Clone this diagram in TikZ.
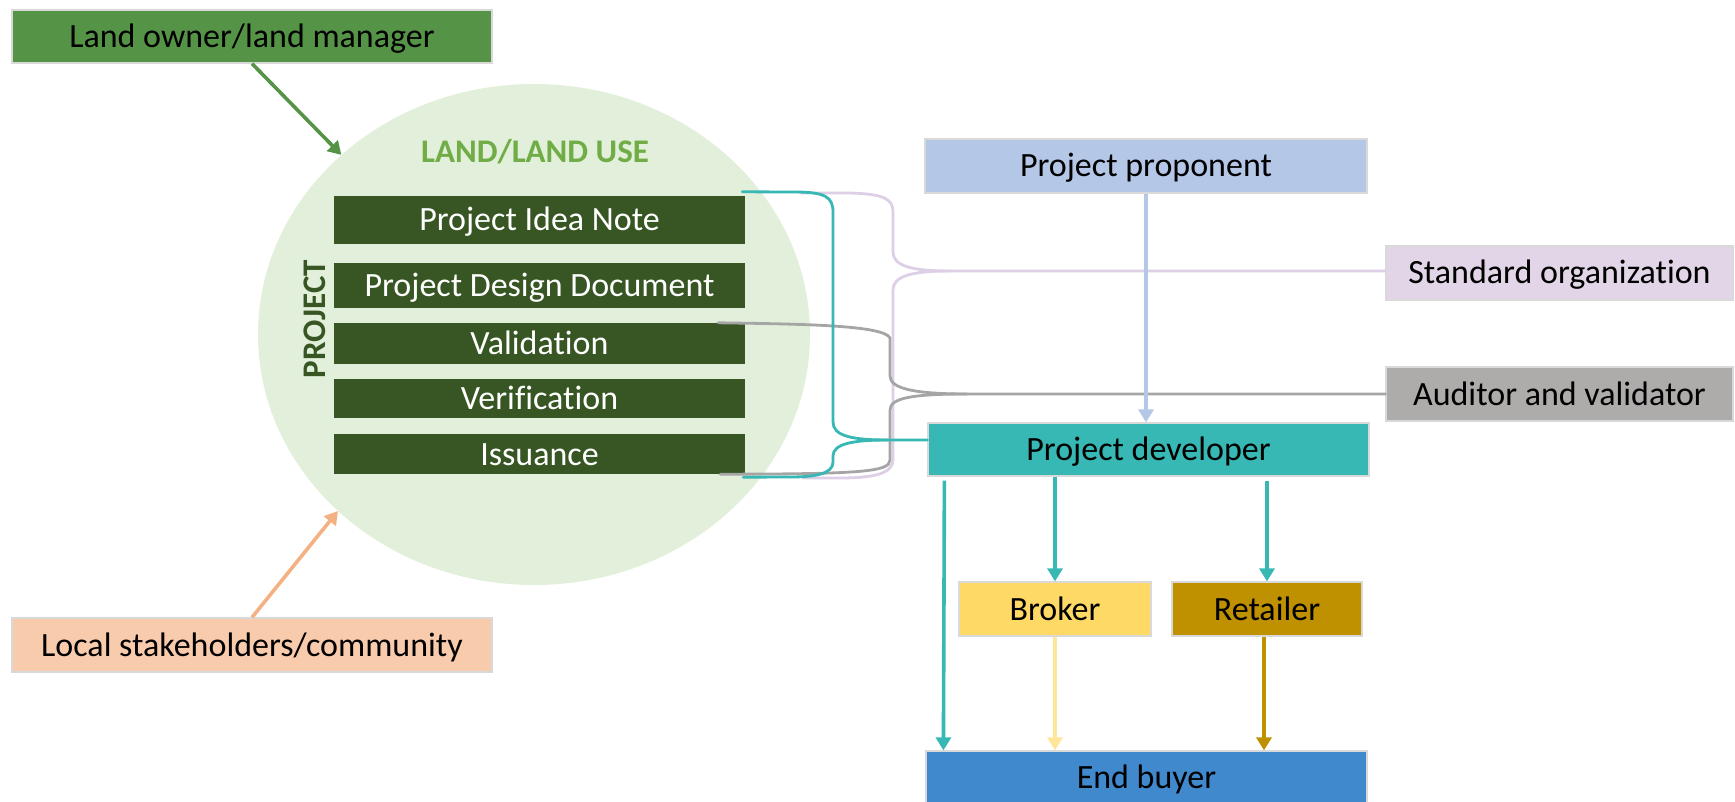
\documentclass[tikz,border=0pt]{standalone}
\usepackage{fontspec}
\setmainfont{Carlito}[Ligatures=NoCommon]
\usetikzlibrary{arrows.meta,calc,shapes.geometric}

\definecolor{ownerfill}{HTML}{559347}
\definecolor{localfill}{HTML}{F8CBAD}
\definecolor{localarrow}{HTML}{F4B183}
\definecolor{landfill}{HTML}{E2EFDA}
\definecolor{barfill}{HTML}{375623}
\definecolor{landtext}{HTML}{70AD47}
\definecolor{propfill}{HTML}{B4C7E7}
\definecolor{stdfill}{HTML}{E1D5E7}
\definecolor{stdline}{HTML}{DCCFE6}
\definecolor{audfill}{HTML}{AEABAB}
\definecolor{audline}{HTML}{A5A5A5}
\definecolor{devfill}{HTML}{37B8B4}
\definecolor{brokfill}{HTML}{FFD966}
\definecolor{brokarrow}{HTML}{FFE699}
\definecolor{retfill}{HTML}{BF9000}
\definecolor{buyfill}{HTML}{4189CD}
\definecolor{edge}{HTML}{D9D9D9}

\begin{document}
\begin{tikzpicture}[x=1pt,y=-1pt,
  txt/.style={font=\fontsize{34}{40}\selectfont, text height=29pt, text depth=7pt},
  box/.style={txt, draw=edge, line width=1.2pt, inner sep=0pt, text=black},
  bar/.style={txt, fill=barfill, inner sep=0pt, text=white,
              minimum width=411pt},
  arr/.style={line width=3.6pt, -{Triangle[width=15pt,length=13pt]}},
  brace/.style={line width=2.8pt, line cap=round}
]
\useasboundingbox (0,0) rectangle (1735,802);

% land / land use area
\node[ellipse, fill=landfill, minimum width=552pt, minimum height=501pt,
      inner sep=0pt] (land) at (534,334.5) {};
\node[font=\bfseries\fontsize{33}{40}\selectfont, text=landtext] (landlbl)
      at (535,152) {LAND/LAND USE};
\node[font=\bfseries\fontsize{33}{40}\selectfont, text=barfill, rotate=90]
      (projlbl) at (315,319) {PROJECT};

% project stages
\node[bar, minimum height=48pt] (pin) at (539.5,220)   {Project Idea Note};
\node[bar, minimum height=45pt] (pdd) at (539.5,285.5) {Project Design Document};
\node[bar, minimum height=41pt] (val) at (539.5,343.5) {Validation};
\node[bar, minimum height=39pt] (ver) at (539.5,398.5) {Verification};
\node[bar, minimum height=40pt] (iss) at (539.5,454)   {Issuance};

% actors
\node[box, fill=ownerfill, minimum width=480pt, minimum height=53pt]
      (owner) at (252,36.5) {Land owner/land manager};
\node[box, fill=localfill, minimum width=480pt, minimum height=54pt]
      (local) at (252,645) {Local stakeholders/community};
\node[box, fill=propfill, minimum width=442pt, minimum height=54pt]
      (prop) at (1146,166) {Project proponent};
\node[box, fill=stdfill, minimum width=347pt, minimum height=54pt]
      (std) at (1559.5,273) {Standard organization};
\node[box, fill=audfill, minimum width=347pt, minimum height=54pt]
      (aud) at (1559.5,394) {Auditor and validator};
\node[box, fill=devfill, minimum width=441pt, minimum height=53pt]
      (dev) at (1148.5,449.5) {Project developer};
\node[box, fill=brokfill, minimum width=192pt, minimum height=54pt]
      (brok) at (1055,609) {Broker};
\node[box, fill=retfill, minimum width=190pt, minimum height=54pt]
      (ret) at (1267,609) {Retailer};
\node[box, fill=buyfill, minimum width=441pt, minimum height=53pt]
      (buy) at (1146.5,777.5) {End buyer};

% brace ends and tips
\coordinate (tA) at ([shift={(-3,-4)}]pin.north east);
\coordinate (tB) at ([shift={(-2,3)}]iss.south east);
\coordinate (tTip) at (888,440);
\coordinate (lA) at (800,193);
\coordinate (lB) at (803,478);
\coordinate (lTip) at (950,271);
\coordinate (gA) at ([shift={(-27,0)}]val.north east);
\coordinate (gB) at ([shift={(-25,0)}]iss.south east);
\coordinate (gTip) at (967,394);

% standard organization brace
\draw[brace, stdline] (lA) -- (850,193) .. controls (884,194) and (893,199) .. (893,212)
  -- (893,252) .. controls (893,266) and (912,271) .. (lTip) -- (lTip -| std.west);
\draw[brace, stdline] (lTip) .. controls (912,271) and (893,276) .. (893,290)
  -- (893,460) .. controls (893,474) and (872,478) .. (840,478) -- (lB);

% auditor brace
\draw[brace, audline] (gA) .. controls (800,324) and (884,325) .. (890,338)
  -- (890,376) .. controls (890,388) and (912,394) .. (gTip) -- (gTip -| aud.west);
\draw[brace, audline] (gTip) .. controls (912,394) and (890,398) .. (890,410)
  -- (890,460) .. controls (890,472) and (860,474) .. (gB);

% project developer brace
\draw[brace, devfill] (tA) -- (795,192) .. controls (825,192) and (833,197) .. (833,212)
  -- (833,422) .. controls (833,436) and (852,440) .. (tTip) -- (tTip -| dev.west);
\draw[brace, devfill] (tTip) .. controls (852,440) and (833,444) .. (833,456)
  -- (833,462) .. controls (833,474) and (815,477) .. (790,477) -- (tB);

% arrows
\draw[arr, ownerfill] (owner.south) -- (land.137.5);
\draw[arr, localarrow] (local.north) -- (land.222.5);
\draw[arr, propfill] (prop.south) -- (prop.south |- dev.north);
\draw[arr, devfill] ([shift={(17,4)}]dev.south west) -- ([xshift=18pt]buy.north west);
\draw[arr, devfill] (brok.north |- dev.south) -- (brok.north);
\draw[arr, devfill] ([yshift=-4pt]ret.north |- dev.south) -- (ret.north);
\draw[arr, brokarrow] (brok.south) -- (brok.south |- buy.north);
\draw[arr, retfill] ([xshift=-3pt]ret.south) -- ([xshift=-3pt]ret.south |- buy.north);
\end{tikzpicture}
\end{document}
